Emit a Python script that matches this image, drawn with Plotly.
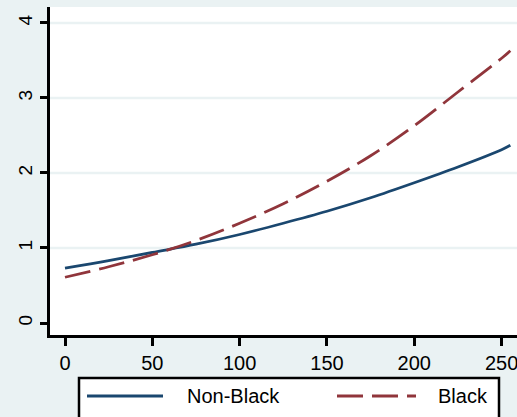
import plotly.graph_objects as go

# Predicted values by dose level for the two groups
dose = [0, 25, 50, 75, 100, 125, 150, 175, 200, 225, 250, 255]
non_black = [0.73, 0.83, 0.94, 1.05, 1.18, 1.33, 1.49, 1.67, 1.87, 2.08, 2.31, 2.37]
black = [0.61, 0.75, 0.91, 1.10, 1.33, 1.59, 1.89, 2.23, 2.63, 3.08, 3.53, 3.63]

x_ticks = [0, 50, 100, 150, 200, 250]
y_ticks = [0, 1, 2, 3, 4]
grid_levels = [1, 2, 3, 4]
series_names = ["Non-Black", "Black"]

NAVY = "#1a476f"
MAROON = "#90353b"
BG = "#eaf2f3"
FONT = "Arial, Liberation Sans, sans-serif"

W, H = 517, 417
L, R, T, B = 50, 0, 7, 82
pw, ph = W - L - R, H - T - B


def px(xp):
    return (xp - L) / pw


def py(yp):
    return (H - B - yp) / ph


fig = go.Figure()
fig.add_trace(go.Scatter(x=dose, y=non_black, mode="lines", name=series_names[0],
                         line=dict(color=NAVY, width=2.8, shape="spline"),
                         showlegend=False))
fig.add_trace(go.Scatter(x=dose, y=black, mode="lines", name=series_names[1],
                         line=dict(color=MAROON, width=2.8, shape="spline", dash="26px,9px"),
                         showlegend=False))

shapes = []
# horizontal grid lines
for g in grid_levels:
    shapes.append(dict(type="line", xref="paper", yref="y", x0=0, x1=1, y0=g, y1=g,
                       line=dict(color=BG, width=2.5), layer="below"))

# legend box
shapes.append(dict(type="rect", xref="paper", yref="paper",
                   x0=px(79), x1=px(499), y0=py(378), y1=py(425),
                   line=dict(color="black", width=2.5), fillcolor="white", layer="above"))
shapes.append(dict(type="line", xref="paper", yref="paper",
                   x0=px(87), x1=px(163), y0=py(396), y1=py(396),
                   line=dict(color=NAVY, width=2.8)))
shapes.append(dict(type="line", xref="paper", yref="paper",
                   x0=px(337), x1=px(416), y0=py(396), y1=py(396),
                   line=dict(color=MAROON, width=2.8, dash="26px,9px")))

annotations = [
    dict(text=series_names[0], xref="paper", yref="paper", x=px(233.5), y=py(396),
         showarrow=False, xanchor="center", yanchor="middle",
         font=dict(family=FONT, size=20, color="black")),
    dict(text=series_names[1], xref="paper", yref="paper", x=px(463), y=py(396),
         showarrow=False, xanchor="center", yanchor="middle",
         font=dict(family=FONT, size=20, color="black")),
]

fig.update_layout(
    width=W, height=H,
    margin=dict(l=L, r=R, t=T, b=B, pad=0),
    paper_bgcolor=BG, plot_bgcolor="white",
    font=dict(family=FONT, size=20, color="black"),
    shapes=shapes, annotations=annotations,
    xaxis=dict(range=[(L - 65) / 1.7464, (W - 65) / 1.7464], tickvals=x_ticks,
               ticks="outside", ticklen=8, tickwidth=2.5, tickcolor="black",
               showline=True, linewidth=3, linecolor="black", mirror=False,
               showgrid=False, zeroline=False, ticklabeloverflow="allow",
               tickfont=dict(family=FONT, size=20, color="black")),
    yaxis=dict(range=[-0.16, 4.213], tickvals=y_ticks, tickangle=-90,
               ticks="outside", ticklen=7, tickwidth=2.5, tickcolor="black",
               showline=True, linewidth=3, linecolor="black", mirror=False,
               showgrid=False, zeroline=False,
               tickfont=dict(family=FONT, size=19, color="black")),
)

fig.write_html("out.html")
